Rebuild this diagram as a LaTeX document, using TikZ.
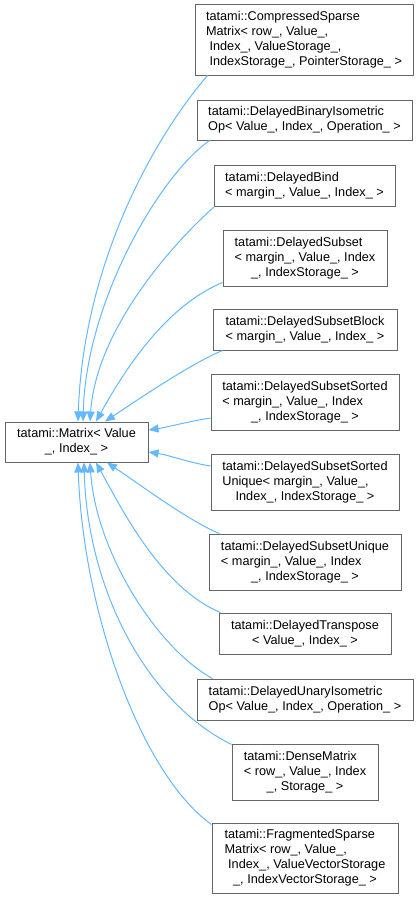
\documentclass[tikz,border=0pt]{standalone}
\usepackage{fontspec}
\setmainfont{Liberation Sans}
\usetikzlibrary{arrows.meta, calc}

% class label: left-aligned lines, last line centred
\newcommand{\lastln}[1]{\multicolumn{1}{@{}c@{}}{#1}}
\newcommand{\clsname}[1]{\begin{tabular}{@{}l@{}}#1\end{tabular}}

\begin{document}
\begin{tikzpicture}[
    x=1pt, y=-1pt,
    font=\fontsize{12.7}{15}\selectfont,
    classbox/.style={draw=boxgray, fill=white, line width=1pt, inner sep=0pt},
    inherit/.style={draw=edgeblue, line width=1pt, -{Triangle[length=10pt, width=8pt]}}
]
% Define colors
\definecolor{boxgray}{RGB}{102,102,102}
\definecolor{edgeblue}{RGB}{99,184,255}

\useasboundingbox (0,0) rectangle (419,899);

% Column positions
\def\colB{76.5}  % base class
\def\colD{305}   % derived classes

% Base class
\node[classbox, minimum width=143, minimum height=40] (mat) at (\colB,442)
    {\clsname{tatami::Matrix< Value\\\lastln{\_, Index\_ >}}};

% Derived classes (top to bottom)
\node[classbox, minimum width=218, minimum height=70] (cs) at (304,40)
    {\clsname{tatami::CompressedSparse\\Matrix< row\_, Value\_,\\\ Index\_, ValueStorage\_,\\\lastln{\ IndexStorage\_, PointerStorage\_ >}}};
\node[classbox, minimum width=215, minimum height=40] (dbi) at (304.5,120)
    {\clsname{tatami::DelayedBinaryIsometric\\\lastln{Op< Value\_, Index\_, Operation\_ >}}};
\node[classbox, minimum width=181, minimum height=41] (dbind) at (304.5,185.5)
    {\clsname{tatami::DelayedBind\\\lastln{< margin\_, Value\_, Index\_ >}}};
\node[classbox, minimum width=164, minimum height=56] (dsub) at (\colD,258)
    {\clsname{tatami::DelayedSubset\\< margin\_, Value\_, Index\\\lastln{\_, IndexStorage\_ >}}};
\node[classbox, minimum width=184, minimum height=41] (dsubblk) at (\colD,329.5)
    {\clsname{tatami::DelayedSubsetBlock\\\lastln{< margin\_, Value\_, Index\_ >}}};
\node[classbox, minimum width=188, minimum height=56] (dsubsort) at (\colD,402)
    {\clsname{tatami::DelayedSubsetSorted\\< margin\_, Value\_, Index\\\lastln{\_, IndexStorage\_ >}}};
\node[classbox, minimum width=188, minimum height=56] (dsubsortu) at (\colD,482)
    {\clsname{tatami::DelayedSubsetSorted\\Unique< margin\_, Value\_,\\\lastln{Index\_, IndexStorage\_ >}}};
\node[classbox, minimum width=192, minimum height=56] (dsubu) at (\colD,562)
    {\clsname{tatami::DelayedSubsetUnique\\< margin\_, Value\_, Index\\\lastln{\_, IndexStorage\_ >}}};
\node[classbox, minimum width=172, minimum height=41] (dtrans) at (\colD,633.5)
    {\clsname{tatami::DelayedTranspose\\\lastln{< Value\_, Index\_ >}}};
\node[classbox, minimum width=216, minimum height=41] (dui) at (\colD,699.5)
    {\clsname{tatami::DelayedUnaryIsometric\\\lastln{Op< Value\_, Index\_, Operation\_ >}}};
\node[classbox, minimum width=146, minimum height=56] (dense) at (\colD,772)
    {\clsname{tatami::DenseMatrix\\< row\_, Value\_, Index\\\lastln{\_, Storage\_ >}}};
\node[classbox, minimum width=186, minimum height=70] (frag) at (\colD,858)
    {\clsname{tatami::FragmentedSparse\\Matrix< row\_, Value\_,\\\ Index\_, ValueVectorStorage\\\lastln{\_, IndexVectorStorage\_ >}}};

% Inheritance edges
\draw[inherit] ($(cs.south west)+(13,0)$) .. controls +(-60,70) and +(5,-150) .. ($(mat.north)+(1.5,0)$);
\draw[inherit] ($(dbi.south west)+(13,0)$) .. controls +(-50,35) and +(3,-120) .. ($(mat.north)+(6.5,0)$);
\draw[inherit] ($(dbind.south west)+(1,0)$) .. controls +(-45,40) and +(6,-90) .. ($(mat.north)+(13.5,0)$);
\draw[inherit] ($(dsub.south west)+(0,-4)$) .. controls +(-60,25) and +(25,-45) .. ($(mat.north)+(19.5,0)$);
\draw[inherit] ($(dsubblk.south west)+(10,0)$) .. controls +(-30,12) and +(30,-20) .. ($(mat.north)+(28.5,0)$);
\draw[inherit] ($(dsubsort.west)+(0,16)$) .. controls +(-20,3) and +(20,-3) .. ($(mat.east)+(0,-12)$);
\draw[inherit] ($(dsubsortu.west)+(0,-16)$) .. controls +(-20,-3) and +(20,3) .. ($(mat.east)+(0,10)$);
\draw[inherit] ($(dsubu.north west)+(11,0)$) .. controls +(-30,-12) and +(30,20) .. ($(mat.south)+(30.5,0)$);
\draw[inherit] ($(dtrans.north west)+(2,0)$) .. controls +(-60,-25) and +(25,45) .. ($(mat.south)+(19.5,0)$);
\draw[inherit] ($(dui.north west)+(16,0)$) .. controls +(-55,-30) and +(6,90) .. ($(mat.south)+(13.5,0)$);
\draw[inherit] ($(dense.north west)+(0,1)$) .. controls +(-90,-45) and +(3,120) .. ($(mat.south)+(7.5,0)$);
\draw[inherit] ($(frag.north west)+(0,2)$) .. controls +(-70,-50) and +(5,150) .. ($(mat.south)+(1.5,0)$);

\end{tikzpicture}
\end{document}
